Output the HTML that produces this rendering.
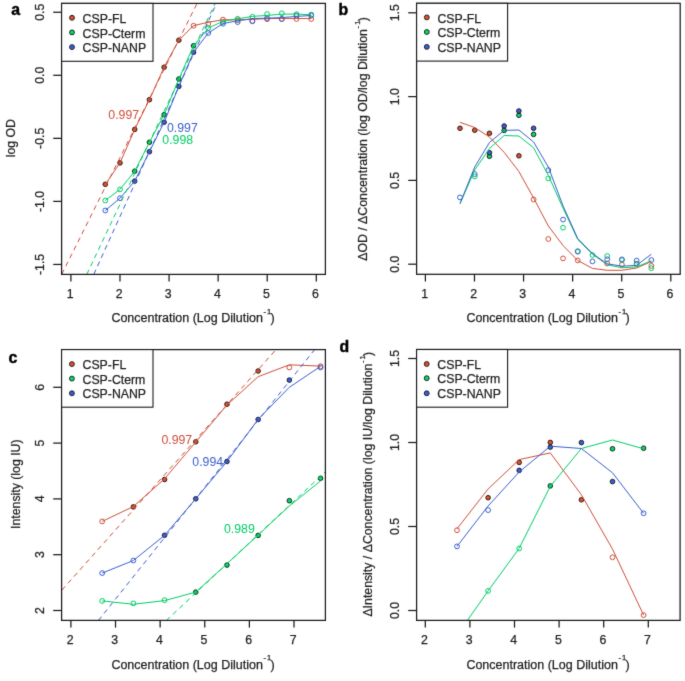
<!DOCTYPE html>
<html><head><meta charset="utf-8"><style>
html,body{margin:0;padding:0;background:#fff;}
svg{display:block;font-family:"Liberation Sans",sans-serif;}
</style></head><body>
<svg width="685" height="681" viewBox="0 0 685 681">
<defs>
<clipPath id="ca"><rect x="61.5" y="3.5" width="264" height="271"/></clipPath>
<clipPath id="cc"><rect x="61.6" y="349.7" width="263.7" height="270.8"/></clipPath>
<clipPath id="cd"><rect x="416.4" y="349.6" width="263.5" height="270.8"/></clipPath>
<filter id="bl" x="0" y="0" width="100%" height="100%" color-interpolation-filters="sRGB"><feConvolveMatrix order="3" kernelMatrix="0.01134 0.08382 0.01134 0.08382 0.61935 0.08382 0.01134 0.08382 0.01134" edgeMode="duplicate"/></filter>
</defs>
<g filter="url(#bl)">
<rect width="685" height="681" fill="#fff"/>
<g clip-path="url(#ca)">
<circle cx="105.3" cy="184.3" r="2.3" fill="#E0502E" stroke="#111" stroke-width="0.9"/>
<circle cx="120.01" cy="162.9" r="2.3" fill="#E0502E" stroke="#111" stroke-width="0.9"/>
<circle cx="134.71" cy="129.4" r="2.3" fill="#E0502E" stroke="#111" stroke-width="0.9"/>
<circle cx="149.42" cy="99.7" r="2.3" fill="#E0502E" stroke="#111" stroke-width="0.9"/>
<circle cx="164.13" cy="67.2" r="2.3" fill="#E0502E" stroke="#111" stroke-width="0.9"/>
<circle cx="178.83" cy="40.2" r="2.3" fill="#E0502E" stroke="#111" stroke-width="0.9"/>
<circle cx="193.54" cy="25.7" r="2.4" fill="none" stroke="#CD4F39" stroke-width="1"/>
<circle cx="208.25" cy="23.8" r="2.4" fill="none" stroke="#CD4F39" stroke-width="1"/>
<circle cx="222.96" cy="19.6" r="2.4" fill="none" stroke="#CD4F39" stroke-width="1"/>
<circle cx="237.66" cy="20.2" r="2.4" fill="none" stroke="#CD4F39" stroke-width="1"/>
<circle cx="252.37" cy="20.9" r="2.4" fill="none" stroke="#CD4F39" stroke-width="1"/>
<circle cx="267.08" cy="19.2" r="2.4" fill="none" stroke="#CD4F39" stroke-width="1"/>
<circle cx="281.78" cy="19" r="2.4" fill="none" stroke="#CD4F39" stroke-width="1"/>
<circle cx="296.49" cy="19" r="2.4" fill="none" stroke="#CD4F39" stroke-width="1"/>
<circle cx="311.2" cy="19" r="2.4" fill="none" stroke="#CD4F39" stroke-width="1"/>
<circle cx="105.3" cy="200.5" r="2.4" fill="none" stroke="#00CD66" stroke-width="1"/>
<circle cx="120.01" cy="189.4" r="2.4" fill="none" stroke="#00CD66" stroke-width="1"/>
<circle cx="134.71" cy="171.2" r="2.3" fill="#00DD66" stroke="#111" stroke-width="0.9"/>
<circle cx="149.42" cy="142.3" r="2.3" fill="#00DD66" stroke="#111" stroke-width="0.9"/>
<circle cx="164.13" cy="114.7" r="2.3" fill="#00DD66" stroke="#111" stroke-width="0.9"/>
<circle cx="178.83" cy="79" r="2.3" fill="#00DD66" stroke="#111" stroke-width="0.9"/>
<circle cx="193.54" cy="45.8" r="2.3" fill="#00DD66" stroke="#111" stroke-width="0.9"/>
<circle cx="208.25" cy="28.2" r="2.4" fill="none" stroke="#00CD66" stroke-width="1"/>
<circle cx="222.96" cy="22" r="2.4" fill="none" stroke="#00CD66" stroke-width="1"/>
<circle cx="237.66" cy="18.8" r="2.4" fill="none" stroke="#00CD66" stroke-width="1"/>
<circle cx="252.37" cy="16.8" r="2.4" fill="none" stroke="#00CD66" stroke-width="1"/>
<circle cx="267.08" cy="14" r="2.4" fill="none" stroke="#00CD66" stroke-width="1"/>
<circle cx="281.78" cy="13.3" r="2.4" fill="none" stroke="#00CD66" stroke-width="1"/>
<circle cx="296.49" cy="14.2" r="2.4" fill="none" stroke="#00CD66" stroke-width="1"/>
<circle cx="311.2" cy="14.6" r="2.4" fill="none" stroke="#00CD66" stroke-width="1"/>
<circle cx="105.3" cy="210.5" r="2.4" fill="none" stroke="#3A5FCD" stroke-width="1"/>
<circle cx="120.01" cy="198.2" r="2.4" fill="none" stroke="#3A5FCD" stroke-width="1"/>
<circle cx="134.71" cy="181.1" r="2.3" fill="#3A5FDD" stroke="#111" stroke-width="0.9"/>
<circle cx="149.42" cy="151.7" r="2.3" fill="#3A5FDD" stroke="#111" stroke-width="0.9"/>
<circle cx="164.13" cy="122.2" r="2.3" fill="#3A5FDD" stroke="#111" stroke-width="0.9"/>
<circle cx="178.83" cy="86.4" r="2.3" fill="#3A5FDD" stroke="#111" stroke-width="0.9"/>
<circle cx="193.54" cy="52.3" r="2.3" fill="#3A5FDD" stroke="#111" stroke-width="0.9"/>
<circle cx="208.25" cy="33" r="2.4" fill="none" stroke="#3A5FCD" stroke-width="1"/>
<circle cx="222.96" cy="23.7" r="2.4" fill="none" stroke="#3A5FCD" stroke-width="1"/>
<circle cx="237.66" cy="22.1" r="2.4" fill="none" stroke="#3A5FCD" stroke-width="1"/>
<circle cx="252.37" cy="21.3" r="2.4" fill="none" stroke="#3A5FCD" stroke-width="1"/>
<circle cx="267.08" cy="18.1" r="2.4" fill="none" stroke="#3A5FCD" stroke-width="1"/>
<circle cx="281.78" cy="19" r="2.4" fill="none" stroke="#3A5FCD" stroke-width="1"/>
<circle cx="296.49" cy="15.5" r="2.4" fill="none" stroke="#3A5FCD" stroke-width="1"/>
<circle cx="311.2" cy="15.5" r="2.4" fill="none" stroke="#3A5FCD" stroke-width="1"/>
<polyline points="105.3,184.3 120.01,162.9 134.71,129.4 149.42,99.7 164.13,67.2 178.83,40.2 193.54,25.7 208.25,22.2 222.96,19.8 237.66,19.8 252.37,19.4 267.08,18.6 281.78,18.4 296.49,18.5 311.2,18.6" fill="none" stroke="#CD4F39" stroke-width="1.0" stroke-linejoin="round"/>
<polyline points="105.3,200.5 120.01,189.4 134.71,171.2 149.42,142.3 164.13,114.7 178.83,79 193.54,45.8 208.25,28.2 222.96,21.2 237.66,18.8 252.37,16.4 267.08,15.4 281.78,14.2 296.49,14 311.2,14.8" fill="none" stroke="#00CD66" stroke-width="1.0" stroke-linejoin="round"/>
<polyline points="105.3,210.5 120.01,198.2 134.71,181.1 149.42,151.7 164.13,122.2 178.83,86.4 193.54,52.3 208.25,33 222.96,23.5 237.66,20.8 252.37,18.6 267.08,18.2 281.78,17.6 296.49,16.4 311.2,15.5" fill="none" stroke="#3A5FCD" stroke-width="1.0" stroke-linejoin="round"/>
<line x1="61.75" y1="274.3" x2="197" y2="3.5" stroke="#CD4F39" stroke-width="1" stroke-dasharray="5,4" />
<line x1="86.8" y1="274.3" x2="215.1" y2="3.5" stroke="#00CD66" stroke-width="1" stroke-dasharray="5,4" />
<line x1="93.8" y1="274.3" x2="216.4" y2="3.5" stroke="#3A5FCD" stroke-width="1" stroke-dasharray="5,4" />
</g>
<text x="108.3" y="119.4" font-size="12.3" text-anchor="start" fill="#CD4F39" font-weight="normal" >0.997</text>
<text x="167" y="131.5" font-size="12.3" text-anchor="start" fill="#3A5FCD" font-weight="normal" >0.997</text>
<text x="162.3" y="144" font-size="12.3" text-anchor="start" fill="#00CD66" font-weight="normal" >0.998</text>
<rect x="61.6" y="3.4" width="263.8" height="271" fill="none" stroke="#1a1a1a" stroke-width="1.25"/>
<line x1="70.9" y1="274.4" x2="70.9" y2="281.6" stroke="#1a1a1a" stroke-width="1.25" />
<text x="70.1" y="297.6" font-size="12.3" text-anchor="middle" fill="#1e1e1e" font-weight="normal"  stroke="#1e1e1e" stroke-width="0.25">1</text>
<line x1="119.98" y1="274.4" x2="119.98" y2="281.6" stroke="#1a1a1a" stroke-width="1.25" />
<text x="119.18" y="297.6" font-size="12.3" text-anchor="middle" fill="#1e1e1e" font-weight="normal"  stroke="#1e1e1e" stroke-width="0.25">2</text>
<line x1="169.06" y1="274.4" x2="169.06" y2="281.6" stroke="#1a1a1a" stroke-width="1.25" />
<text x="168.26" y="297.6" font-size="12.3" text-anchor="middle" fill="#1e1e1e" font-weight="normal"  stroke="#1e1e1e" stroke-width="0.25">3</text>
<line x1="218.14" y1="274.4" x2="218.14" y2="281.6" stroke="#1a1a1a" stroke-width="1.25" />
<text x="217.34" y="297.6" font-size="12.3" text-anchor="middle" fill="#1e1e1e" font-weight="normal"  stroke="#1e1e1e" stroke-width="0.25">4</text>
<line x1="267.22" y1="274.4" x2="267.22" y2="281.6" stroke="#1a1a1a" stroke-width="1.25" />
<text x="266.42" y="297.6" font-size="12.3" text-anchor="middle" fill="#1e1e1e" font-weight="normal"  stroke="#1e1e1e" stroke-width="0.25">5</text>
<line x1="316.3" y1="274.4" x2="316.3" y2="281.6" stroke="#1a1a1a" stroke-width="1.25" />
<text x="315.5" y="297.6" font-size="12.3" text-anchor="middle" fill="#1e1e1e" font-weight="normal"  stroke="#1e1e1e" stroke-width="0.25">6</text>
<line x1="53.2" y1="12.25" x2="61.6" y2="12.25" stroke="#1a1a1a" stroke-width="1.25" />
<text transform="translate(44.4,12.25) rotate(-90)" font-size="12.3" text-anchor="middle" fill="#1e1e1e" font-weight="normal"  stroke="#1e1e1e" stroke-width="0.25">0.5</text>
<line x1="53.2" y1="75.3" x2="61.6" y2="75.3" stroke="#1a1a1a" stroke-width="1.25" />
<text transform="translate(44.4,75.3) rotate(-90)" font-size="12.3" text-anchor="middle" fill="#1e1e1e" font-weight="normal"  stroke="#1e1e1e" stroke-width="0.25">0.0</text>
<line x1="53.2" y1="138.35" x2="61.6" y2="138.35" stroke="#1a1a1a" stroke-width="1.25" />
<text transform="translate(44.4,138.35) rotate(-90)" font-size="12.3" text-anchor="middle" fill="#1e1e1e" font-weight="normal"  stroke="#1e1e1e" stroke-width="0.25">-0.5</text>
<line x1="53.2" y1="201.4" x2="61.6" y2="201.4" stroke="#1a1a1a" stroke-width="1.25" />
<text transform="translate(44.4,201.4) rotate(-90)" font-size="12.3" text-anchor="middle" fill="#1e1e1e" font-weight="normal"  stroke="#1e1e1e" stroke-width="0.25">-1.0</text>
<line x1="53.2" y1="264.45" x2="61.6" y2="264.45" stroke="#1a1a1a" stroke-width="1.25" />
<text transform="translate(44.4,264.45) rotate(-90)" font-size="12.3" text-anchor="middle" fill="#1e1e1e" font-weight="normal"  stroke="#1e1e1e" stroke-width="0.25">-1.5</text>
<text x="193" y="322.3" font-size="12.5" text-anchor="middle" fill="#1e1e1e" font-weight="normal"  stroke="#1e1e1e" stroke-width="0.25">Concentration (Log Dilution<tspan font-size="7.6" dy="-8.8" dx="0.6">-</tspan><tspan font-size="7.6" dx="1.1">1</tspan><tspan dy="8.8" dx="-0.9">)</tspan></text>
<text transform="translate(14.5,138.2) rotate(-90)" font-size="12.3" text-anchor="middle" fill="#1e1e1e" font-weight="normal"  stroke="#1e1e1e" stroke-width="0.25">log OD</text>
<text x="11.2" y="14.6" font-size="15.8" text-anchor="start" fill="#000" font-weight="bold"  stroke="#000" stroke-width="0.45">a</text>
<rect x="61.6" y="3.4" width="91.4" height="57.9" fill="#fff" stroke="#1a1a1a" stroke-width="1.1"/>
<circle cx="72" cy="17.8" r="2.45" fill="#E0502E" stroke="#111" stroke-width="0.9"/>
<text x="82.6" y="22.9" font-size="12.3" text-anchor="start" fill="#1e1e1e" font-weight="normal"  stroke="#1e1e1e" stroke-width="0.25">CSP-FL</text>
<circle cx="72" cy="32.4" r="2.45" fill="#00DD66" stroke="#111" stroke-width="0.9"/>
<text x="82.6" y="37.5" font-size="12.3" text-anchor="start" fill="#1e1e1e" font-weight="normal"  stroke="#1e1e1e" stroke-width="0.25">CSP-Cterm</text>
<circle cx="72" cy="47.1" r="2.45" fill="#3A5FDD" stroke="#111" stroke-width="0.9"/>
<text x="82.6" y="52.2" font-size="12.3" text-anchor="start" fill="#1e1e1e" font-weight="normal"  stroke="#1e1e1e" stroke-width="0.25">CSP-NANP</text>
<circle cx="460" cy="128.3" r="2.3" fill="#E0502E" stroke="#111" stroke-width="0.9"/>
<circle cx="474.72" cy="130.2" r="2.3" fill="#E0502E" stroke="#111" stroke-width="0.9"/>
<circle cx="489.44" cy="133.3" r="2.3" fill="#E0502E" stroke="#111" stroke-width="0.9"/>
<circle cx="518.88" cy="155.8" r="2.3" fill="#E0502E" stroke="#111" stroke-width="0.9"/>
<circle cx="533.6" cy="199.5" r="2.4" fill="none" stroke="#CD4F39" stroke-width="1"/>
<circle cx="548.32" cy="239" r="2.4" fill="none" stroke="#CD4F39" stroke-width="1"/>
<circle cx="563.04" cy="258.4" r="2.4" fill="none" stroke="#CD4F39" stroke-width="1"/>
<circle cx="577.76" cy="260.4" r="2.4" fill="none" stroke="#CD4F39" stroke-width="1"/>
<circle cx="607.2" cy="263.5" r="2.4" fill="none" stroke="#CD4F39" stroke-width="1"/>
<circle cx="621.92" cy="264.7" r="2.4" fill="none" stroke="#CD4F39" stroke-width="1"/>
<circle cx="636.64" cy="264" r="2.4" fill="none" stroke="#CD4F39" stroke-width="1"/>
<circle cx="651.36" cy="265.9" r="2.4" fill="none" stroke="#CD4F39" stroke-width="1"/>
<circle cx="474.72" cy="176.4" r="2.4" fill="none" stroke="#00CD66" stroke-width="1"/>
<circle cx="489.44" cy="156.3" r="2.3" fill="#00DD66" stroke="#111" stroke-width="0.9"/>
<circle cx="504.16" cy="130.4" r="2.3" fill="#00DD66" stroke="#111" stroke-width="0.9"/>
<circle cx="518.88" cy="115.3" r="2.3" fill="#00DD66" stroke="#111" stroke-width="0.9"/>
<circle cx="533.6" cy="134.4" r="2.3" fill="#00DD66" stroke="#111" stroke-width="0.9"/>
<circle cx="548.32" cy="178.4" r="2.4" fill="none" stroke="#00CD66" stroke-width="1"/>
<circle cx="563.04" cy="227.7" r="2.4" fill="none" stroke="#00CD66" stroke-width="1"/>
<circle cx="577.76" cy="251.8" r="2.4" fill="none" stroke="#00CD66" stroke-width="1"/>
<circle cx="592.48" cy="255" r="2.4" fill="none" stroke="#00CD66" stroke-width="1"/>
<circle cx="607.2" cy="256" r="2.4" fill="none" stroke="#00CD66" stroke-width="1"/>
<circle cx="621.92" cy="260.1" r="2.4" fill="none" stroke="#00CD66" stroke-width="1"/>
<circle cx="636.64" cy="263.5" r="2.4" fill="none" stroke="#00CD66" stroke-width="1"/>
<circle cx="651.36" cy="268.2" r="2.4" fill="none" stroke="#00CD66" stroke-width="1"/>
<circle cx="460" cy="197.4" r="2.4" fill="none" stroke="#3A5FCD" stroke-width="1"/>
<circle cx="474.72" cy="174.1" r="2.4" fill="none" stroke="#3A5FCD" stroke-width="1"/>
<circle cx="489.44" cy="152.7" r="2.3" fill="#3A5FDD" stroke="#111" stroke-width="0.9"/>
<circle cx="504.16" cy="126" r="2.3" fill="#3A5FDD" stroke="#111" stroke-width="0.9"/>
<circle cx="518.88" cy="111" r="2.3" fill="#3A5FDD" stroke="#111" stroke-width="0.9"/>
<circle cx="533.6" cy="128.3" r="2.3" fill="#3A5FDD" stroke="#111" stroke-width="0.9"/>
<circle cx="548.32" cy="170.1" r="2.4" fill="none" stroke="#3A5FCD" stroke-width="1"/>
<circle cx="563.04" cy="219.6" r="2.4" fill="none" stroke="#3A5FCD" stroke-width="1"/>
<circle cx="577.76" cy="251.2" r="2.4" fill="none" stroke="#3A5FCD" stroke-width="1"/>
<circle cx="592.48" cy="261.4" r="2.4" fill="none" stroke="#3A5FCD" stroke-width="1"/>
<circle cx="607.2" cy="259.3" r="2.4" fill="none" stroke="#3A5FCD" stroke-width="1"/>
<circle cx="621.92" cy="259.4" r="2.4" fill="none" stroke="#3A5FCD" stroke-width="1"/>
<circle cx="636.64" cy="260.6" r="2.4" fill="none" stroke="#3A5FCD" stroke-width="1"/>
<circle cx="651.36" cy="260.1" r="2.4" fill="none" stroke="#3A5FCD" stroke-width="1"/>
<polyline points="460,122.3 474.72,127.5 489.44,137 504.16,152.3 518.88,171.5 533.6,198 548.32,226 563.04,245.5 577.76,260.5 592.48,268.4 607.2,270.3 621.92,270.3 636.64,268 651.36,261.5" fill="none" stroke="#CD4F39" stroke-width="1.0" stroke-linejoin="round"/>
<polyline points="460,203.8 474.72,170 489.44,148.5 504.16,135.5 518.88,136 533.6,147.8 548.32,175.3 563.04,208.1 577.76,239.5 592.48,254.2 607.2,264.7 621.92,267.8 636.64,266.9 651.36,260.8" fill="none" stroke="#00CD66" stroke-width="1.0" stroke-linejoin="round"/>
<polyline points="460,203.5 474.72,167 489.44,142.5 504.16,130.4 518.88,130 533.6,142 548.32,167 563.04,205.9 577.76,238.6 592.48,253.6 607.2,263.8 621.92,266.2 636.64,265.3 651.36,254.2" fill="none" stroke="#3A5FCD" stroke-width="1.0" stroke-linejoin="round"/>
<rect x="416.6" y="3.3" width="263.6" height="271" fill="none" stroke="#1a1a1a" stroke-width="1.25"/>
<line x1="425.4" y1="274.3" x2="425.4" y2="281.5" stroke="#1a1a1a" stroke-width="1.25" />
<text x="424.6" y="297.6" font-size="12.3" text-anchor="middle" fill="#1e1e1e" font-weight="normal"  stroke="#1e1e1e" stroke-width="0.25">1</text>
<line x1="474.48" y1="274.3" x2="474.48" y2="281.5" stroke="#1a1a1a" stroke-width="1.25" />
<text x="473.68" y="297.6" font-size="12.3" text-anchor="middle" fill="#1e1e1e" font-weight="normal"  stroke="#1e1e1e" stroke-width="0.25">2</text>
<line x1="523.56" y1="274.3" x2="523.56" y2="281.5" stroke="#1a1a1a" stroke-width="1.25" />
<text x="522.76" y="297.6" font-size="12.3" text-anchor="middle" fill="#1e1e1e" font-weight="normal"  stroke="#1e1e1e" stroke-width="0.25">3</text>
<line x1="572.64" y1="274.3" x2="572.64" y2="281.5" stroke="#1a1a1a" stroke-width="1.25" />
<text x="571.84" y="297.6" font-size="12.3" text-anchor="middle" fill="#1e1e1e" font-weight="normal"  stroke="#1e1e1e" stroke-width="0.25">4</text>
<line x1="621.72" y1="274.3" x2="621.72" y2="281.5" stroke="#1a1a1a" stroke-width="1.25" />
<text x="620.92" y="297.6" font-size="12.3" text-anchor="middle" fill="#1e1e1e" font-weight="normal"  stroke="#1e1e1e" stroke-width="0.25">5</text>
<line x1="670.8" y1="274.3" x2="670.8" y2="281.5" stroke="#1a1a1a" stroke-width="1.25" />
<text x="670" y="297.6" font-size="12.3" text-anchor="middle" fill="#1e1e1e" font-weight="normal"  stroke="#1e1e1e" stroke-width="0.25">6</text>
<line x1="408.2" y1="264.2" x2="416.6" y2="264.2" stroke="#1a1a1a" stroke-width="1.25" />
<text transform="translate(398.9,264.2) rotate(-90)" font-size="12.3" text-anchor="middle" fill="#1e1e1e" font-weight="normal"  stroke="#1e1e1e" stroke-width="0.25">0.0</text>
<line x1="408.2" y1="180.4" x2="416.6" y2="180.4" stroke="#1a1a1a" stroke-width="1.25" />
<text transform="translate(398.9,180.4) rotate(-90)" font-size="12.3" text-anchor="middle" fill="#1e1e1e" font-weight="normal"  stroke="#1e1e1e" stroke-width="0.25">0.5</text>
<line x1="408.2" y1="96.6" x2="416.6" y2="96.6" stroke="#1a1a1a" stroke-width="1.25" />
<text transform="translate(398.9,96.6) rotate(-90)" font-size="12.3" text-anchor="middle" fill="#1e1e1e" font-weight="normal"  stroke="#1e1e1e" stroke-width="0.25">1.0</text>
<line x1="408.2" y1="12.8" x2="416.6" y2="12.8" stroke="#1a1a1a" stroke-width="1.25" />
<text transform="translate(398.9,12.8) rotate(-90)" font-size="12.3" text-anchor="middle" fill="#1e1e1e" font-weight="normal"  stroke="#1e1e1e" stroke-width="0.25">1.5</text>
<text x="548" y="322.3" font-size="12.5" text-anchor="middle" fill="#1e1e1e" font-weight="normal"  stroke="#1e1e1e" stroke-width="0.25">Concentration (Log Dilution<tspan font-size="7.6" dy="-8.8" dx="0.6">-</tspan><tspan font-size="7.6" dx="1.1">1</tspan><tspan dy="8.8" dx="-0.9">)</tspan></text>
<text transform="translate(367.2,139) rotate(-90)" font-size="12.3" text-anchor="middle" fill="#1e1e1e" font-weight="normal"  stroke="#1e1e1e" stroke-width="0.25">&#916;OD / &#916;Concentration (log OD/log Dilution<tspan font-size="7.6" dy="-6.9" dx="0.6">-</tspan><tspan font-size="7.6" dx="1.1">1</tspan><tspan dy="6.9" dx="-0.7">)</tspan></text>
<text x="338.6" y="14.5" font-size="15.8" text-anchor="start" fill="#000" font-weight="bold"  stroke="#000" stroke-width="0.45">b</text>
<rect x="416.6" y="3.3" width="91" height="57.8" fill="#fff" stroke="#1a1a1a" stroke-width="1.1"/>
<circle cx="426.8" cy="17.4" r="2.45" fill="#E0502E" stroke="#111" stroke-width="0.9"/>
<text x="437.4" y="22.5" font-size="12.3" text-anchor="start" fill="#1e1e1e" font-weight="normal"  stroke="#1e1e1e" stroke-width="0.25">CSP-FL</text>
<circle cx="426.8" cy="32" r="2.45" fill="#00DD66" stroke="#111" stroke-width="0.9"/>
<text x="437.4" y="37.1" font-size="12.3" text-anchor="start" fill="#1e1e1e" font-weight="normal"  stroke="#1e1e1e" stroke-width="0.25">CSP-Cterm</text>
<circle cx="426.8" cy="46.9" r="2.45" fill="#3A5FDD" stroke="#111" stroke-width="0.9"/>
<text x="437.4" y="52" font-size="12.3" text-anchor="start" fill="#1e1e1e" font-weight="normal"  stroke="#1e1e1e" stroke-width="0.25">CSP-NANP</text>
<g clip-path="url(#cc)">
<circle cx="102.2" cy="521.4" r="2.4" fill="none" stroke="#CD4F39" stroke-width="1"/>
<circle cx="133.39" cy="506.9" r="2.3" fill="#E0502E" stroke="#111" stroke-width="0.9"/>
<circle cx="164.58" cy="479.5" r="2.3" fill="#E0502E" stroke="#111" stroke-width="0.9"/>
<circle cx="195.77" cy="441.8" r="2.3" fill="#E0502E" stroke="#111" stroke-width="0.9"/>
<circle cx="226.96" cy="404.2" r="2.3" fill="#E0502E" stroke="#111" stroke-width="0.9"/>
<circle cx="258.15" cy="371" r="2.3" fill="#E0502E" stroke="#111" stroke-width="0.9"/>
<circle cx="289.34" cy="367.5" r="2.4" fill="none" stroke="#CD4F39" stroke-width="1"/>
<circle cx="320.53" cy="366.2" r="2.4" fill="none" stroke="#CD4F39" stroke-width="1"/>
<circle cx="102.2" cy="600.9" r="2.4" fill="none" stroke="#00CD66" stroke-width="1"/>
<circle cx="133.39" cy="603.4" r="2.4" fill="none" stroke="#00CD66" stroke-width="1"/>
<circle cx="164.58" cy="600.2" r="2.4" fill="none" stroke="#00CD66" stroke-width="1"/>
<circle cx="195.77" cy="592.1" r="2.3" fill="#00DD66" stroke="#111" stroke-width="0.9"/>
<circle cx="226.96" cy="565.1" r="2.3" fill="#00DD66" stroke="#111" stroke-width="0.9"/>
<circle cx="258.15" cy="535.4" r="2.3" fill="#00DD66" stroke="#111" stroke-width="0.9"/>
<circle cx="289.34" cy="500.7" r="2.3" fill="#00DD66" stroke="#111" stroke-width="0.9"/>
<circle cx="320.53" cy="478.3" r="2.3" fill="#00DD66" stroke="#111" stroke-width="0.9"/>
<circle cx="102.2" cy="573.1" r="2.4" fill="none" stroke="#3A5FCD" stroke-width="1"/>
<circle cx="133.39" cy="560.5" r="2.4" fill="none" stroke="#3A5FCD" stroke-width="1"/>
<circle cx="164.58" cy="535.3" r="2.3" fill="#3A5FDD" stroke="#111" stroke-width="0.9"/>
<circle cx="195.77" cy="498.8" r="2.3" fill="#3A5FDD" stroke="#111" stroke-width="0.9"/>
<circle cx="226.96" cy="461.5" r="2.3" fill="#3A5FDD" stroke="#111" stroke-width="0.9"/>
<circle cx="258.15" cy="419.5" r="2.3" fill="#3A5FDD" stroke="#111" stroke-width="0.9"/>
<circle cx="289.34" cy="380.1" r="2.3" fill="#3A5FDD" stroke="#111" stroke-width="0.9"/>
<circle cx="320.53" cy="367.5" r="2.4" fill="none" stroke="#3A5FCD" stroke-width="1"/>
<polyline points="102.2,521.4 133.39,506.5 164.58,478.8 195.77,442 226.96,405 258.15,376.7 289.34,364.8 320.53,366.1" fill="none" stroke="#CD4F39" stroke-width="1.0" stroke-linejoin="round"/>
<polyline points="102.2,600.9 133.39,604.3 164.58,600.6 195.77,592.1 226.96,563.8 258.15,535 289.34,506 320.53,481" fill="none" stroke="#00CD66" stroke-width="1.0" stroke-linejoin="round"/>
<polyline points="102.2,573.1 133.39,560.5 164.58,535.3 195.77,498.8 226.96,461.5 258.15,419.3 289.34,387.3 320.53,366.4" fill="none" stroke="#3A5FCD" stroke-width="1.0" stroke-linejoin="round"/>
<line x1="61.9" y1="590.1" x2="276" y2="349.6" stroke="#CD4F39" stroke-width="1" stroke-dasharray="5,4" />
<line x1="98.4" y1="620.5" x2="314.6" y2="349.6" stroke="#3A5FCD" stroke-width="1" stroke-dasharray="5,4" />
<line x1="166.3" y1="620.5" x2="325.3" y2="471.8" stroke="#00CD66" stroke-width="1" stroke-dasharray="5,4" />
</g>
<text x="161.4" y="443.8" font-size="12.3" text-anchor="start" fill="#CD4F39" font-weight="normal" >0.997</text>
<text x="192.3" y="466.3" font-size="12.3" text-anchor="start" fill="#3A5FCD" font-weight="normal" >0.994</text>
<text x="224" y="533" font-size="12.3" text-anchor="start" fill="#00CD66" font-weight="normal" >0.989</text>
<rect x="61.6" y="349.6" width="263.8" height="270.8" fill="none" stroke="#1a1a1a" stroke-width="1.25"/>
<line x1="70.9" y1="620.4" x2="70.9" y2="627.6" stroke="#1a1a1a" stroke-width="1.25" />
<text x="70.1" y="643.9" font-size="12.3" text-anchor="middle" fill="#1e1e1e" font-weight="normal"  stroke="#1e1e1e" stroke-width="0.25">2</text>
<line x1="115.52" y1="620.4" x2="115.52" y2="627.6" stroke="#1a1a1a" stroke-width="1.25" />
<text x="114.72" y="643.9" font-size="12.3" text-anchor="middle" fill="#1e1e1e" font-weight="normal"  stroke="#1e1e1e" stroke-width="0.25">3</text>
<line x1="160.14" y1="620.4" x2="160.14" y2="627.6" stroke="#1a1a1a" stroke-width="1.25" />
<text x="159.34" y="643.9" font-size="12.3" text-anchor="middle" fill="#1e1e1e" font-weight="normal"  stroke="#1e1e1e" stroke-width="0.25">4</text>
<line x1="204.76" y1="620.4" x2="204.76" y2="627.6" stroke="#1a1a1a" stroke-width="1.25" />
<text x="203.96" y="643.9" font-size="12.3" text-anchor="middle" fill="#1e1e1e" font-weight="normal"  stroke="#1e1e1e" stroke-width="0.25">5</text>
<line x1="249.38" y1="620.4" x2="249.38" y2="627.6" stroke="#1a1a1a" stroke-width="1.25" />
<text x="248.58" y="643.9" font-size="12.3" text-anchor="middle" fill="#1e1e1e" font-weight="normal"  stroke="#1e1e1e" stroke-width="0.25">6</text>
<line x1="294" y1="620.4" x2="294" y2="627.6" stroke="#1a1a1a" stroke-width="1.25" />
<text x="293.2" y="643.9" font-size="12.3" text-anchor="middle" fill="#1e1e1e" font-weight="normal"  stroke="#1e1e1e" stroke-width="0.25">7</text>
<line x1="53.2" y1="610.5" x2="61.6" y2="610.5" stroke="#1a1a1a" stroke-width="1.25" />
<text transform="translate(43.7,610.5) rotate(-90)" font-size="12.3" text-anchor="middle" fill="#1e1e1e" font-weight="normal"  stroke="#1e1e1e" stroke-width="0.25">2</text>
<line x1="53.2" y1="554.7" x2="61.6" y2="554.7" stroke="#1a1a1a" stroke-width="1.25" />
<text transform="translate(43.7,554.7) rotate(-90)" font-size="12.3" text-anchor="middle" fill="#1e1e1e" font-weight="normal"  stroke="#1e1e1e" stroke-width="0.25">3</text>
<line x1="53.2" y1="498.9" x2="61.6" y2="498.9" stroke="#1a1a1a" stroke-width="1.25" />
<text transform="translate(43.7,498.9) rotate(-90)" font-size="12.3" text-anchor="middle" fill="#1e1e1e" font-weight="normal"  stroke="#1e1e1e" stroke-width="0.25">4</text>
<line x1="53.2" y1="443.1" x2="61.6" y2="443.1" stroke="#1a1a1a" stroke-width="1.25" />
<text transform="translate(43.7,443.1) rotate(-90)" font-size="12.3" text-anchor="middle" fill="#1e1e1e" font-weight="normal"  stroke="#1e1e1e" stroke-width="0.25">5</text>
<line x1="53.2" y1="387.3" x2="61.6" y2="387.3" stroke="#1a1a1a" stroke-width="1.25" />
<text transform="translate(43.7,387.3) rotate(-90)" font-size="12.3" text-anchor="middle" fill="#1e1e1e" font-weight="normal"  stroke="#1e1e1e" stroke-width="0.25">6</text>
<text x="193" y="668.8" font-size="12.5" text-anchor="middle" fill="#1e1e1e" font-weight="normal"  stroke="#1e1e1e" stroke-width="0.25">Concentration (Log Dilution<tspan font-size="7.6" dy="-8.8" dx="0.6">-</tspan><tspan font-size="7.6" dx="1.1">1</tspan><tspan dy="8.8" dx="-0.9">)</tspan></text>
<text transform="translate(19.6,484.2) rotate(-90)" font-size="12.3" text-anchor="middle" fill="#1e1e1e" font-weight="normal"  stroke="#1e1e1e" stroke-width="0.25">Intensity (log IU)</text>
<text x="8.6" y="362.9" font-size="15.8" text-anchor="start" fill="#000" font-weight="bold"  stroke="#000" stroke-width="0.45">c</text>
<rect x="61.6" y="349.6" width="91.4" height="57.6" fill="#fff" stroke="#1a1a1a" stroke-width="1.1"/>
<circle cx="71.9" cy="364.1" r="2.45" fill="#E0502E" stroke="#111" stroke-width="0.9"/>
<text x="82.5" y="369.2" font-size="12.3" text-anchor="start" fill="#1e1e1e" font-weight="normal"  stroke="#1e1e1e" stroke-width="0.25">CSP-FL</text>
<circle cx="71.9" cy="378.6" r="2.45" fill="#00DD66" stroke="#111" stroke-width="0.9"/>
<text x="82.5" y="383.7" font-size="12.3" text-anchor="start" fill="#1e1e1e" font-weight="normal"  stroke="#1e1e1e" stroke-width="0.25">CSP-Cterm</text>
<circle cx="71.9" cy="393.3" r="2.45" fill="#3A5FDD" stroke="#111" stroke-width="0.9"/>
<text x="82.5" y="398.4" font-size="12.3" text-anchor="start" fill="#1e1e1e" font-weight="normal"  stroke="#1e1e1e" stroke-width="0.25">CSP-NANP</text>
<g clip-path="url(#cd)">
<circle cx="457" cy="530.2" r="2.4" fill="none" stroke="#CD4F39" stroke-width="1"/>
<circle cx="488.1" cy="497.7" r="2.3" fill="#E0502E" stroke="#111" stroke-width="0.9"/>
<circle cx="519.2" cy="462.4" r="2.3" fill="#E0502E" stroke="#111" stroke-width="0.9"/>
<circle cx="550.3" cy="442.4" r="2.3" fill="#E0502E" stroke="#111" stroke-width="0.9"/>
<circle cx="581.4" cy="499.8" r="2.3" fill="#E0502E" stroke="#111" stroke-width="0.9"/>
<circle cx="612.5" cy="557.3" r="2.4" fill="none" stroke="#CD4F39" stroke-width="1"/>
<circle cx="643.6" cy="615.1" r="2.4" fill="none" stroke="#CD4F39" stroke-width="1"/>
<circle cx="488.1" cy="590.9" r="2.4" fill="none" stroke="#00CD66" stroke-width="1"/>
<circle cx="519.2" cy="548.5" r="2.4" fill="none" stroke="#00CD66" stroke-width="1"/>
<circle cx="550.3" cy="485.9" r="2.3" fill="#00DD66" stroke="#111" stroke-width="0.9"/>
<circle cx="612.5" cy="448.8" r="2.3" fill="#00DD66" stroke="#111" stroke-width="0.9"/>
<circle cx="643.6" cy="448.2" r="2.3" fill="#00DD66" stroke="#111" stroke-width="0.9"/>
<circle cx="457" cy="546.4" r="2.4" fill="none" stroke="#3A5FCD" stroke-width="1"/>
<circle cx="488.1" cy="510.1" r="2.4" fill="none" stroke="#3A5FCD" stroke-width="1"/>
<circle cx="519.2" cy="470.4" r="2.3" fill="#3A5FDD" stroke="#111" stroke-width="0.9"/>
<circle cx="550.3" cy="447.1" r="2.3" fill="#3A5FDD" stroke="#111" stroke-width="0.9"/>
<circle cx="581.4" cy="442.6" r="2.3" fill="#3A5FDD" stroke="#111" stroke-width="0.9"/>
<circle cx="612.5" cy="481.6" r="2.3" fill="#3A5FDD" stroke="#111" stroke-width="0.9"/>
<circle cx="643.6" cy="513.3" r="2.4" fill="none" stroke="#3A5FCD" stroke-width="1"/>
<polyline points="457,528.8 488.1,489 519.2,459.6 550.3,452.9 581.4,494.8 612.5,549.1 643.6,615.1" fill="none" stroke="#CD4F39" stroke-width="1.0" stroke-linejoin="round"/>
<polyline points="457,635.3 488.1,590.9 519.2,548.3 550.3,486.3 581.4,448.5 612.5,440 643.6,448.8" fill="none" stroke="#00CD66" stroke-width="1.0" stroke-linejoin="round"/>
<polyline points="457,546.4 488.1,506 519.2,472 550.3,446.2 581.4,448.5 612.5,472.8 643.6,513.3" fill="none" stroke="#3A5FCD" stroke-width="1.0" stroke-linejoin="round"/>
</g>
<rect x="416.6" y="349.5" width="263.5" height="270.9" fill="none" stroke="#1a1a1a" stroke-width="1.25"/>
<line x1="425.3" y1="620.4" x2="425.3" y2="627.6" stroke="#1a1a1a" stroke-width="1.25" />
<text x="424.5" y="643.9" font-size="12.3" text-anchor="middle" fill="#1e1e1e" font-weight="normal"  stroke="#1e1e1e" stroke-width="0.25">2</text>
<line x1="469.9" y1="620.4" x2="469.9" y2="627.6" stroke="#1a1a1a" stroke-width="1.25" />
<text x="469.1" y="643.9" font-size="12.3" text-anchor="middle" fill="#1e1e1e" font-weight="normal"  stroke="#1e1e1e" stroke-width="0.25">3</text>
<line x1="514.5" y1="620.4" x2="514.5" y2="627.6" stroke="#1a1a1a" stroke-width="1.25" />
<text x="513.7" y="643.9" font-size="12.3" text-anchor="middle" fill="#1e1e1e" font-weight="normal"  stroke="#1e1e1e" stroke-width="0.25">4</text>
<line x1="559.1" y1="620.4" x2="559.1" y2="627.6" stroke="#1a1a1a" stroke-width="1.25" />
<text x="558.3" y="643.9" font-size="12.3" text-anchor="middle" fill="#1e1e1e" font-weight="normal"  stroke="#1e1e1e" stroke-width="0.25">5</text>
<line x1="603.7" y1="620.4" x2="603.7" y2="627.6" stroke="#1a1a1a" stroke-width="1.25" />
<text x="602.9" y="643.9" font-size="12.3" text-anchor="middle" fill="#1e1e1e" font-weight="normal"  stroke="#1e1e1e" stroke-width="0.25">6</text>
<line x1="648.3" y1="620.4" x2="648.3" y2="627.6" stroke="#1a1a1a" stroke-width="1.25" />
<text x="647.5" y="643.9" font-size="12.3" text-anchor="middle" fill="#1e1e1e" font-weight="normal"  stroke="#1e1e1e" stroke-width="0.25">7</text>
<line x1="408.2" y1="610.5" x2="416.6" y2="610.5" stroke="#1a1a1a" stroke-width="1.25" />
<text transform="translate(398.9,610.5) rotate(-90)" font-size="12.3" text-anchor="middle" fill="#1e1e1e" font-weight="normal"  stroke="#1e1e1e" stroke-width="0.25">0.0</text>
<line x1="408.2" y1="526.5" x2="416.6" y2="526.5" stroke="#1a1a1a" stroke-width="1.25" />
<text transform="translate(398.9,526.5) rotate(-90)" font-size="12.3" text-anchor="middle" fill="#1e1e1e" font-weight="normal"  stroke="#1e1e1e" stroke-width="0.25">0.5</text>
<line x1="408.2" y1="442.5" x2="416.6" y2="442.5" stroke="#1a1a1a" stroke-width="1.25" />
<text transform="translate(398.9,442.5) rotate(-90)" font-size="12.3" text-anchor="middle" fill="#1e1e1e" font-weight="normal"  stroke="#1e1e1e" stroke-width="0.25">1.0</text>
<line x1="408.2" y1="358.5" x2="416.6" y2="358.5" stroke="#1a1a1a" stroke-width="1.25" />
<text transform="translate(398.9,358.5) rotate(-90)" font-size="12.3" text-anchor="middle" fill="#1e1e1e" font-weight="normal"  stroke="#1e1e1e" stroke-width="0.25">1.5</text>
<text x="548" y="668.8" font-size="12.5" text-anchor="middle" fill="#1e1e1e" font-weight="normal"  stroke="#1e1e1e" stroke-width="0.25">Concentration (Log Dilution<tspan font-size="7.6" dy="-8.8" dx="0.6">-</tspan><tspan font-size="7.6" dx="1.1">1</tspan><tspan dy="8.8" dx="-0.9">)</tspan></text>
<text transform="translate(372.2,484.2) rotate(-90)" font-size="12.3" text-anchor="middle" fill="#1e1e1e" font-weight="normal"  stroke="#1e1e1e" stroke-width="0.25">&#916;Intensity / &#916;Concentration (log IU/log Dilution<tspan font-size="7.6" dy="-6.9" dx="0.6">-</tspan><tspan font-size="7.6" dx="1.1">1</tspan><tspan dy="6.9" dx="-0.7">)</tspan></text>
<text x="339.5" y="351.8" font-size="15.8" text-anchor="start" fill="#000" font-weight="bold"  stroke="#000" stroke-width="0.45">d</text>
<rect x="416.6" y="349.5" width="91" height="57.7" fill="#fff" stroke="#1a1a1a" stroke-width="1.1"/>
<circle cx="426.7" cy="364" r="2.45" fill="#E0502E" stroke="#111" stroke-width="0.9"/>
<text x="437.3" y="369.1" font-size="12.3" text-anchor="start" fill="#1e1e1e" font-weight="normal"  stroke="#1e1e1e" stroke-width="0.25">CSP-FL</text>
<circle cx="426.7" cy="378.2" r="2.45" fill="#00DD66" stroke="#111" stroke-width="0.9"/>
<text x="437.3" y="383.3" font-size="12.3" text-anchor="start" fill="#1e1e1e" font-weight="normal"  stroke="#1e1e1e" stroke-width="0.25">CSP-Cterm</text>
<circle cx="426.7" cy="393.3" r="2.45" fill="#3A5FDD" stroke="#111" stroke-width="0.9"/>
<text x="437.3" y="398.4" font-size="12.3" text-anchor="start" fill="#1e1e1e" font-weight="normal"  stroke="#1e1e1e" stroke-width="0.25">CSP-NANP</text>
</g>
</svg>
</body></html>
